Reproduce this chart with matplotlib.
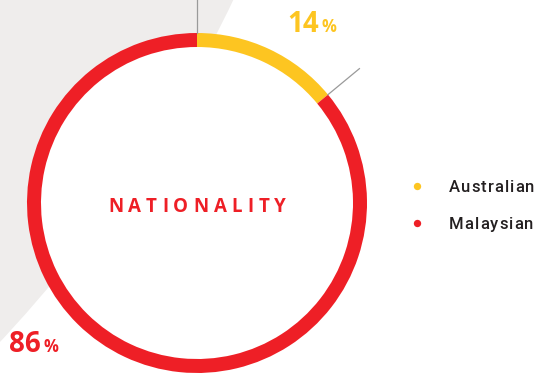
import matplotlib.pyplot as plt
from matplotlib.patches import Circle
import numpy as np

categories = ["Australian", "Malaysian"]
shares = [14, 86]
colors = ["#FDC521", "#EE1F26"]
title = "NATIONALITY"

W, H = 540, 375
fig = plt.figure(figsize=(W / 100, H / 100), dpi=100)
ax = fig.add_axes([0, 0, 1, 1])

# soft grey backdrop sweeping in from the upper left
ax.add_patch(Circle((-987, H + 582), 1352, color="#EFEDEC", zorder=0, lw=0))

cx, cy, r, ring = 197, H - 203, 170, 14
# white face inside the ring
ax.add_patch(Circle((cx, cy), r - ring / 2, color="white", zorder=0.5, lw=0))
ax.pie(shares, colors=colors, startangle=90, counterclock=False,
       center=(cx, cy), radius=r, frame=True,
       wedgeprops=dict(width=ring, linewidth=0))
ax.set_xlim(0, W)
ax.set_ylim(0, H)
ax.set_aspect("equal")
ax.axis("off")

# leader lines at segment boundaries
bounds = np.concatenate([[0], np.cumsum(shares)[:-1]]) / sum(shares)
for b in bounds:
    a = np.deg2rad(90 - 360 * b)
    ax.plot([cx + r * np.cos(a), cx + 1.24 * r * np.cos(a)],
            [cy + r * np.sin(a), cy + 1.24 * r * np.sin(a)],
            color="#9A9A9A", lw=0.9, zorder=3)

# percentage labels
def pct_label(x, y, val, color):
    ax.text(x, y, str(val), color=color, fontsize=20, fontweight="bold",
            family="Open Sans", ha="right", va="baseline")
    ax.text(x + 2, y, "%", color=color, fontsize=12, fontweight="bold",
            family="Open Sans", ha="left", va="baseline")

pct_label(319, H - 32, shares[0], colors[0])
pct_label(41, H - 352, shares[1], colors[1])

# letter-spaced text helper
fig.canvas.draw()
rend = fig.canvas.get_renderer()
inv = ax.transData.inverted()

def spaced(x, y, s, track, ha="center", **kw):
    widths = []
    for ch in s:
        t = ax.text(0, 0, ch, **kw)
        bb = t.get_window_extent(rend)
        p0 = inv.transform((bb.x0, bb.y0))
        p1 = inv.transform((bb.x1, bb.y1))
        widths.append(p1[0] - p0[0])
        t.remove()
    total = sum(widths) + track * (len(s) - 1)
    xx = x - total / 2 if ha == "center" else x
    for ch, w in zip(s, widths):
        ax.text(xx, y, ch, ha="left", va="baseline", **kw)
        xx += w + track

spaced(197, H - 212, title, 5.1, color=colors[1], fontsize=13.5,
       fontweight="bold", family="Open Sans")

# legend
leg_y = [186, 223]
for name, col, y in zip(categories, colors, leg_y):
    ax.scatter([417], [H - y], s=28, color=col, zorder=4, lw=0)
    spaced(449, H - y - 6, name, 1.0, ha="left", color="#231F20",
           fontsize=12, fontweight="medium", family="Roboto")

fig.savefig("out.png", dpi=100)
